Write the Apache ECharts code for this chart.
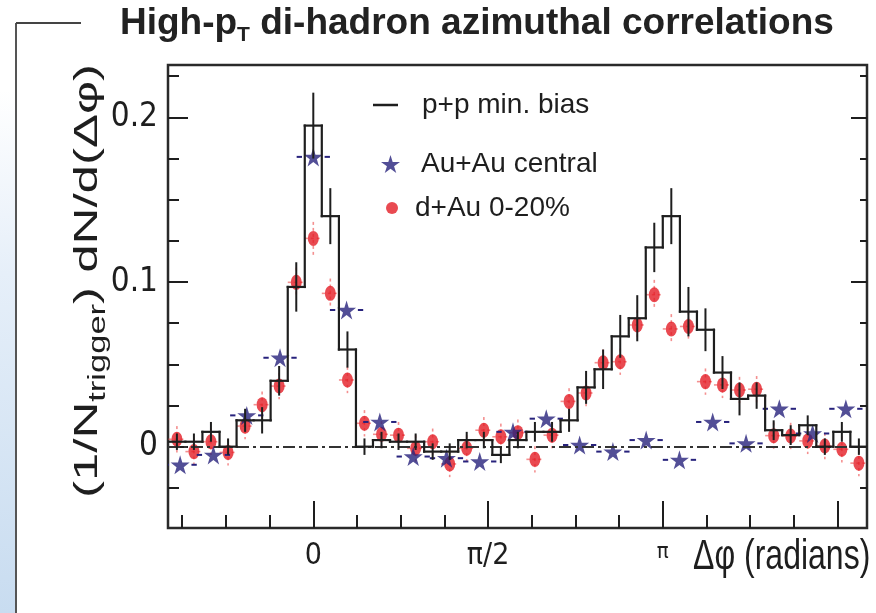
<!DOCTYPE html>
<html>
<head>
<meta charset="utf-8">
<script src="https://cdn.jsdelivr.net/npm/echarts@6/dist/echarts.min.js"></script>
<style>
  html, body { margin: 0; padding: 0; background: #fff; }
  #chart { width: 876px; height: 613px; }
</style>
</head>
<body>
<div id="chart"></div>
<script>
// Fine binning (p+p and d+Au): 41 bins over 2π, centres in radians
const phiFine = [
  -1.226, -1.073, -0.920, -0.766, -0.613, -0.460, -0.307, -0.153,
   0.000,  0.153,  0.307,  0.460,  0.613,  0.766,  0.920,  1.073,
   1.226,  1.379,  1.533,  1.686,  1.839,  1.992,  2.146,  2.299,
   2.452,  2.605,  2.759,  2.912,  3.065,  3.218,  3.372,  3.525,
   3.678,  3.831,  3.985,  4.138,  4.291,  4.444,  4.598,  4.751,
   4.904
];
const fineBinWidth = 0.1532;

// p+p minimum bias: per-trigger yield and statistical error
const ppValues = [
  0.003, 0.003, 0.009, 0.000, 0.016, 0.016, 0.040, 0.097,
  0.195, 0.140, 0.059, 0.000, 0.004, 0.003, 0.003, -0.003,
  -0.003, 0.004, 0.004, -0.005, 0.004, 0.009, 0.009, 0.016,
  0.036, 0.047, 0.067, 0.078, 0.121, 0.140, 0.082, 0.071,
  0.045, 0.029, 0.031, 0.010, 0.007, 0.013, 0.000, 0.009,
  0.000
];
const ppErrors = [
  0.005, 0.005, 0.006, 0.005, 0.007, 0.008, 0.009, 0.015,
  0.020, 0.017, 0.011, 0.005, 0.005, 0.005, 0.005, 0.005,
  0.005, 0.005, 0.005, 0.005, 0.005, 0.006, 0.006, 0.007,
  0.010, 0.012, 0.013, 0.014, 0.015, 0.017, 0.015, 0.013,
  0.010, 0.010, 0.008, 0.006, 0.006, 0.006, 0.005, 0.006,
  0.005
];

// d+Au 0-20%: per-trigger yield and error
const dAuValues = [
  0.0045, -0.003, 0.003, -0.0035, 0.0125, 0.0255, 0.0368, 0.0998,
  0.1265, 0.0931, 0.0405, 0.0142, 0.0075, 0.007, -0.001, 0.003,
  -0.0105, -0.001, 0.010, 0.006, 0.0085, -0.0077, 0.007, 0.0275,
  0.0326, 0.051, 0.0516, 0.0739, 0.0923, 0.0715, 0.073, 0.0395,
  0.0375, 0.0344, 0.0349, 0.0067, 0.0065, 0.0035, 0.0004, -0.0016,
  -0.010
];
const dAuErrors = [
  0.008, 0.008, 0.008, 0.008, 0.008, 0.008, 0.008, 0.009,
  0.010, 0.009, 0.008, 0.008, 0.008, 0.008, 0.008, 0.008,
  0.008, 0.008, 0.008, 0.008, 0.008, 0.008, 0.008, 0.008,
  0.008, 0.008, 0.008, 0.009, 0.009, 0.009, 0.009, 0.008,
  0.008, 0.008, 0.008, 0.008, 0.008, 0.008, 0.008, 0.008,
  0.008
];

// Coarse binning (Au+Au): 21 bins over 2π
const phiCoarse = [
  -1.197, -0.898, -0.598, -0.299, 0.000, 0.299, 0.598, 0.898,
   1.197,  1.496,  1.795,  2.094, 2.394, 2.693, 2.992, 3.291,
   3.590,  3.890,  4.189,  4.488, 4.787
];
const coarseBinWidth = 0.2992;
const auAuValues = [
  -0.011, -0.005, 0.019, 0.054, 0.176, 0.083, 0.015, -0.006,
  -0.007, -0.009, 0.009, 0.017, 0.001, -0.003, 0.004, -0.008,
  0.015, 0.002, 0.023, 0.008, 0.023
];

// Axis ticks
const PI = Math.PI;
const xMajorTicks = [0, PI / 2, PI, 3 * PI / 2];
const xMinorTicks = [-3, -2, -1, 1, 2, 3, 5, 6, 7, 9, 10, 11].map(n => n * PI / 8);
const xLabelValues = [0, PI / 2, PI];
const xLabelTexts = ['0', 'π/2', 'π'];
const yMajorTicks = [0, 0.1, 0.2];
const yMinorTicks = [-0.025, 0.025, 0.05, 0.075, 0.125, 0.15, 0.175, 0.225];
const yLabelTexts = ['0', '0.1', '0.2'];

const X_MIN = -1.306, X_MAX = 4.977;
const Y_MIN = -0.0494, Y_MAX = 0.2318;

const INK = '#1e1e1e';
const AU_COLOR = '#27227c';
const DAU_COLOR = '#e41d25';
const SANS = "'Liberation Sans', Arial, Helvetica, sans-serif";
const NARROW = "'Liberation Sans Narrow', 'Arial Narrow', 'DejaVu Sans Condensed', 'Liberation Sans', Arial, sans-serif";
const STAR = 'path://M50,0 L61,35 L98,35 L68,57 L79,91 L50,70 L21,91 L32,57 L2,35 L39,35 Z';

const chart = echarts.init(document.getElementById('chart'), null, { renderer: 'canvas' });

function xAxisDef(ticks, len, withLabels) {
  return {
    type: 'value', min: X_MIN, max: X_MAX, position: 'bottom',
    axisLine: { show: false, onZero: false },
    splitLine: { show: false },
    axisTick: { show: true, inside: true, length: len, customValues: ticks,
                lineStyle: { color: INK, width: 2 } },
    axisLabel: withLabels ? {
      show: true, customValues: xLabelValues, margin: 13, color: INK,
      formatter: v => {
        const i = xLabelValues.findIndex(t => Math.abs(t - v) < 1e-6);
        return i === 2 ? '{s|' + xLabelTexts[i] + '}' : '{n|' + xLabelTexts[i] + '}';
      },
      rich: {
        n: { fontSize: 30, fontFamily: NARROW, color: INK },
        s: { fontSize: 22, fontFamily: NARROW, color: INK, padding: [0, 0, 4, 0] }
      }
    } : { show: false }
  };
}

function yAxisDef(pos, ticks, len, withLabels) {
  return {
    type: 'value', min: Y_MIN, max: Y_MAX, position: pos,
    axisLine: { show: false, onZero: false },
    splitLine: { show: false },
    axisTick: { show: true, inside: true, length: len, customValues: ticks,
                lineStyle: { color: INK, width: 2 } },
    axisLabel: withLabels ? {
      show: true, customValues: yMajorTicks, margin: 10, color: INK,
      fontSize: 33, fontFamily: NARROW,
      formatter: v => {
        const i = yMajorTicks.findIndex(t => Math.abs(t - v) < 1e-9);
        return yLabelTexts[i];
      }
    } : { show: false }
  };
}

const ppData = phiFine.map((p, i) => [p, ppValues[i], i > 0 ? ppValues[i - 1] : ppValues[i], ppErrors[i]]);
const dAuData = phiFine.map((p, i) => [p, dAuValues[i], dAuErrors[i]]);
const auData = phiCoarse.map((p, i) => [p, auAuValues[i]]);

const option = {
  backgroundColor: '#ffffff',
  animation: false,
  grid: { left: 168, right: 9, top: 65, bottom: 85, show: true,
          borderColor: '#2a2a2a', borderWidth: 2.5, backgroundColor: 'transparent' },
  xAxis: [xAxisDef(xMajorTicks, 27, true), xAxisDef(xMinorTicks, 13, false)],
  yAxis: [
    yAxisDef('left', yMajorTicks, 20, true),
    yAxisDef('left', yMinorTicks, 11, false),
    yAxisDef('right', yMajorTicks, 16, false),
    yAxisDef('right', yMinorTicks, 7, false)
  ],
  legend: [
    { data: [{ name: 'p+p min. bias', icon: 'path://M0,0H30V3H0Z' }],
      left: 373, top: 91, padding: 0, itemWidth: 25, itemHeight: 16,
      textStyle: { fontSize: 28, fontFamily: SANS, color: INK, padding: [0, 0, 0, 19] } },
    { data: [{ name: 'Au+Au central', icon: STAR }],
      left: 381, top: 150, padding: 0, itemWidth: 19, itemHeight: 19,
      textStyle: { fontSize: 28, fontFamily: SANS, color: INK, padding: [0, 0, 0, 16] } },
    { data: [{ name: 'd+Au 0-20%', icon: 'circle' }],
      left: 386, top: 194, padding: 0, itemWidth: 12, itemHeight: 16, symbolKeepAspect: false,
      textStyle: { fontSize: 28, fontFamily: SANS, color: INK, padding: [0, 0, 0, 12] } }
  ],
  graphic: [
    // slide frame on the left edge
    { type: 'rect', left: 0, top: 90, z: -10, silent: true,
      shape: { width: 15, height: 523 },
      style: { fill: new echarts.graphic.LinearGradient(0, 0, 0, 1, [
        { offset: 0, color: '#ffffff' }, { offset: 0.35, color: '#e6eff9' }, { offset: 1, color: '#c8dcf0' }
      ]) } },
    { type: 'line', silent: true, shape: { x1: 16, y1: 23, x2: 16, y2: 613 },
      style: { stroke: '#555', lineWidth: 2 } },
    { type: 'line', silent: true, shape: { x1: 16, y1: 23, x2: 81, y2: 23 },
      style: { stroke: '#444', lineWidth: 2 } },
    // title
    { type: 'text', x: 120, y: 5, silent: true,
      style: {
        text: '{a|High-p}{s|T}{a| di-hadron azimuthal correlations}',
        rich: {
          a: { fontSize: 37, fontWeight: 'bold', fontFamily: SANS, fill: '#222', lineHeight: 37, verticalAlign: 'top' },
          s: { fontSize: 21, fontWeight: 'bold', fontFamily: SANS, fill: '#222', lineHeight: 21, verticalAlign: 'top', padding: [20, 0, 0, 0] }
        }
      } },
    // y axis title
    { type: 'text', x: 88, y: 281, rotation: PI / 2, scaleX: 1.5, silent: true,
      style: {
        text: '{a|(1/N}{s|trigger}{a|) dN/d(Δφ)}',
        align: 'center', verticalAlign: 'middle',
        rich: {
          a: { fontSize: 34, fontFamily: SANS, fill: INK, lineHeight: 34, verticalAlign: 'top' },
          s: { fontSize: 23, fontFamily: SANS, fill: INK, lineHeight: 23, verticalAlign: 'top', padding: [16, 0, 0, 0] }
        }
      } },
    // x axis title
    { type: 'text', x: 693, y: 558, scaleY: 1.3, silent: true,
      style: { text: 'Δφ (radians)', fontSize: 32, fontFamily: SANS, fill: INK,
               align: 'left', verticalAlign: 'middle' } }
  ],
  series: [
    {
      name: 'd+Au 0-20%', type: 'scatter', data: dAuData, z: 3,
      symbol: 'circle', symbolSize: [11, 15],
      itemStyle: { color: DAU_COLOR },
      markLine: {
        silent: true, symbol: ['none', 'none'], label: { show: false },
        lineStyle: { color: '#333', width: 2, type: [12, 4, 3, 4] },
        data: [{ yAxis: 0 }]
      }
    },
    {
      name: 'd+Au 0-20%', type: 'custom', data: dAuData, z: 2, clip: true,
      encode: { x: 0, y: 1 },
      renderItem: (params, api) => {
        const x = api.value(0), v = api.value(1), e = api.value(2);
        const h = fineBinWidth / 2;
        const top = api.coord([x, v + e]), bot = api.coord([x, v - e]);
        const l = api.coord([x - h, v]), r = api.coord([x + h, v]);
        const st = { stroke: 'rgba(236,70,70,0.6)', lineWidth: 1.6, lineDash: [3, 3] };
        return { type: 'group', children: [
          { type: 'line', shape: { x1: top[0], y1: top[1], x2: bot[0], y2: bot[1] }, style: st },
          { type: 'line', shape: { x1: l[0], y1: l[1], x2: r[0], y2: r[1] }, style: st }
        ] };
      }
    },
    {
      name: 'Au+Au central', type: 'scatter', data: auData, z: 4,
      symbol: STAR, symbolSize: 19,
      itemStyle: { color: AU_COLOR }
    },
    {
      name: 'Au+Au central', type: 'custom', data: auData, z: 4, clip: true,
      encode: { x: 0, y: 1 },
      renderItem: (params, api) => {
        const x = api.value(0), v = api.value(1);
        const h = coarseBinWidth / 2;
        const l = api.coord([x - h, v]), r = api.coord([x + h, v]);
        const seg = (r[0] - l[0]) * 0.16;
        const st = { stroke: AU_COLOR, lineWidth: 2 };
        return { type: 'group', children: [
          { type: 'line', shape: { x1: l[0], y1: l[1], x2: l[0] + seg, y2: l[1] }, style: st },
          { type: 'line', shape: { x1: r[0] - seg, y1: r[1], x2: r[0], y2: r[1] }, style: st }
        ] };
      }
    },
    {
      name: 'p+p min. bias', type: 'custom', data: ppData, z: 5, clip: true,
      itemStyle: { color: INK },
      encode: { x: 0, y: 1 },
      renderItem: (params, api) => {
        const x = api.value(0), v = api.value(1), pv = api.value(2), e = api.value(3);
        const h = fineBinWidth / 2;
        const a = api.coord([x - h, v]), b = api.coord([x + h, v]);
        const c = api.coord([x - h, pv]);
        const st = { stroke: INK, lineWidth: 2.2, lineCap: 'square' };
        const t = api.coord([x, v + e]), u = api.coord([x, v - e]);
        return { type: 'group', children: [
          { type: 'line', shape: { x1: a[0], y1: c[1], x2: a[0], y2: a[1] }, style: st },
          { type: 'line', shape: { x1: a[0], y1: a[1], x2: b[0], y2: b[1] }, style: st },
          { type: 'line', shape: { x1: t[0], y1: t[1], x2: u[0], y2: u[1] }, style: { stroke: INK, lineWidth: 2 } }
        ] };
      }
    }
  ]
};

chart.setOption(option);
</script>
</body>
</html>
